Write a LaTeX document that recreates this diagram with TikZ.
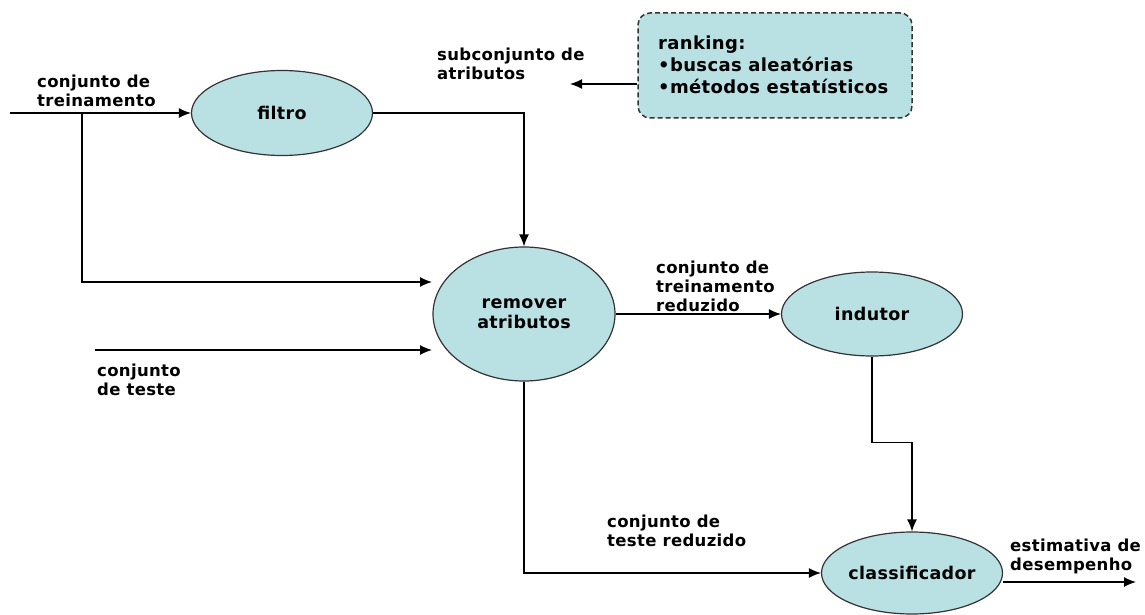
\documentclass[tikz,border=0pt]{standalone}
\usepackage{fontspec}
\setmainfont{DejaVu Sans}
\newfontfamily\lblfont[LetterSpace=2]{DejaVu Sans Bold}
\usetikzlibrary{shapes.geometric,arrows.meta}
\definecolor{procfill}{HTML}{B9E0E3}
\definecolor{procline}{HTML}{333333}
\tikzset{
  proc/.style={ellipse,draw=procline,line width=1.2pt,fill=procfill,inner sep=0pt,
    font=\lblfont\fontsize{17.5}{20}\selectfont,align=center},
  lbl/.style={anchor=west,inner sep=0pt,align=left,font=\lblfont\fontsize{16.5}{19}\selectfont},
  conn/.style={line width=1.3pt,draw=black},
  arr/.style={conn,-{Latex[length=12pt,width=10pt]}},
  note/.style={draw=procline,dashed,dash pattern=on 5pt off 3pt,line width=1.5pt,fill=procfill,rounded corners=12pt,
    minimum width=274pt,minimum height=105pt,inner sep=0pt}
}
\begin{document}
\begin{tikzpicture}[x=1pt,y=-1pt]
\useasboundingbox (0,0) rectangle (1145,615);
% nodes
\node[proc,minimum width=181pt,minimum height=85pt] (filtro) at (282,113) {filtro};
\node[proc,minimum width=182pt,minimum height=134pt] (remover) at (524,314) {remover\\atributos};
\node[proc,minimum width=181pt,minimum height=84pt] (indutor) at (872,314) {indutor};
\node[proc,minimum width=181pt,minimum height=82pt] (classif) at (912,573) {classificador};
\node[note] (rank) at (775,65.5) {};
\node[anchor=west,inner sep=0pt,align=left,font=\lblfont\fontsize{18}{22}\selectfont] (ranktxt) at (658,65) {ranking:\\•buscas aleatórias\\•métodos estatísticos};
% labels
\node[lbl] (l1) at (37,91) {conjunto de\\treinamento};
\node[lbl] (l2) at (437,64) {subconjunto de\\atributos};
\node[lbl] (l3) at (97,380) {conjunto\\de teste};
\node[lbl] (l4) at (656,286) {conjunto de\\treinamento\\reduzido};
\node[lbl] (l5) at (607,531) {conjunto de\\teste reduzido};
\node[lbl] (l6) at (1010,556) {estimativa de\\desempenho};
% coordinates
\coordinate (in1) at (10,113);
\coordinate (br) at (82,113);
\coordinate (rin1) at (432,282);
\coordinate (tin) at (95,350);
\coordinate (rin2) at (432,350);
\coordinate (subout) at (570,84);
\coordinate (out) at (1136,582);
% connectors
\draw[arr] (in1) -- (filtro.west);
\draw[arr] (br) |- (rin1);
\draw[arr] (filtro.east) -| (remover.north);
\draw[arr] (tin) -- (rin2);
\draw[arr] (remover.east) -- (indutor.west);
\draw[arr] (remover.south) |- (classif.west);
\draw[arr] (indutor.south) -- ++(0,86) -| (classif.north);
\draw[arr] (classif.east |- out) -- (out);
\draw[arr] (rank.west |- subout) -- (subout);
\end{tikzpicture}
\end{document}
